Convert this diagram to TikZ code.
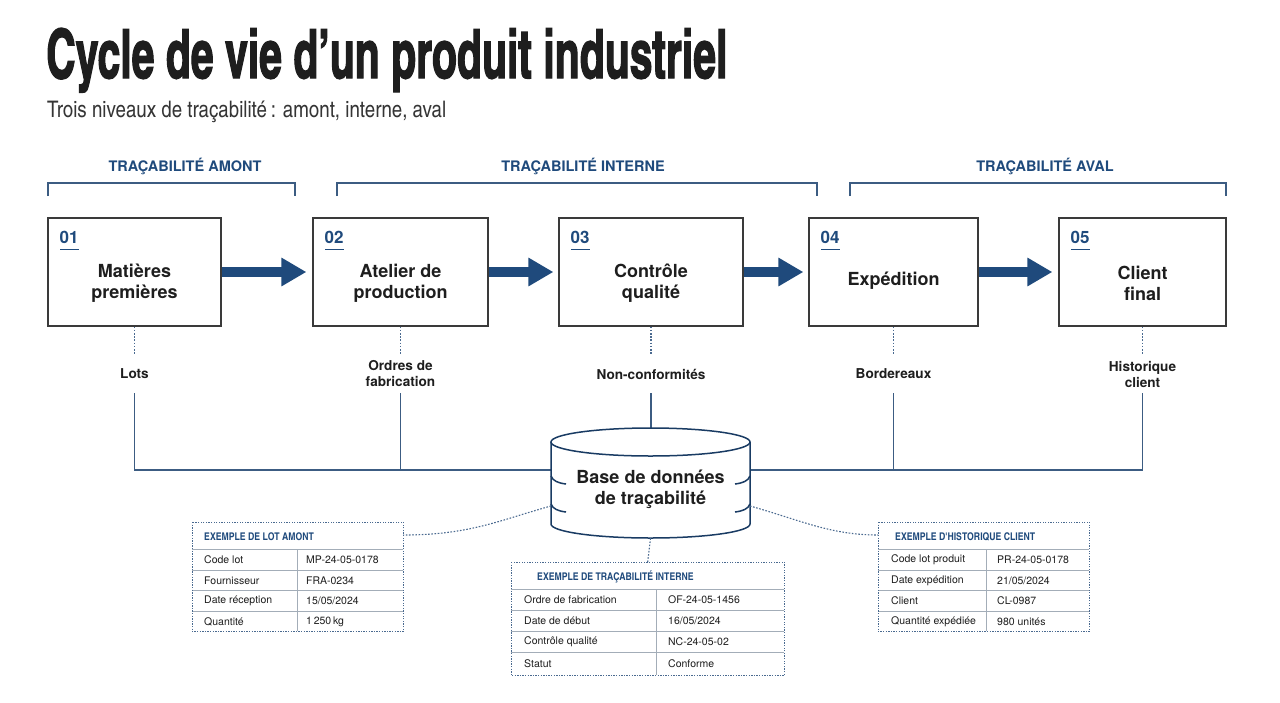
\documentclass[tikz,border=0pt]{standalone}
\usepackage{fontspec}
\setmainfont{TeX Gyre Heros}
\newfontfamily\cnfont{texgyreheroscn}[Extension=.otf, UprightFont=*-regular, BoldFont=*-bold, ItalicFont=*-italic, BoldItalicFont=*-bolditalic]
\newfontfamily\titlefont{texgyreheroscn-bold}[Extension=.otf, FakeBold=2]
\usetikzlibrary{arrows.meta,calc}
\definecolor{navy}{HTML}{1F4A7C}
\definecolor{lineblue}{HTML}{3C5C82}
\definecolor{boxgray}{HTML}{3A3A3A}
\definecolor{txt}{HTML}{1E1E1E}
\definecolor{gridc}{HTML}{A3ADB8}
\definecolor{dotc}{HTML}{4A6A90}
\tikzset{
  stepbox/.style={draw=boxgray, line width=1.3pt, fill=white, minimum height=108pt, inner sep=0pt},
  boxtext/.style={align=center, text=txt, inner sep=0pt, font=\bfseries\fontsize{18}{21}\selectfont},
  num/.style={text=navy, inner sep=0pt, font=\bfseries\fontsize{17}{20}\selectfont},
  numline/.style={draw=navy, line width=1.5pt},
  flow/.style={draw=navy, line width=10pt, -{Triangle[length=25pt,width=27pt]}},
  brlabel/.style={text=navy, inner sep=0pt, font=\bfseries\fontsize{14.5}{17}\selectfont},
  bracket/.style={draw=lineblue, line width=1.2pt},
  lab/.style={align=center, text=txt, inner sep=0pt, minimum height=38pt, font=\bfseries\fontsize{13.6}{16}\selectfont},
  dotline/.style={draw=dotc, line width=1.1pt, dash pattern=on 1.6pt off 1.6pt},
  conn/.style={draw=lineblue, line width=1.5pt},
  cyl/.style={draw=navy!80!black, line width=1.5pt},
  dbtext/.style={align=center, text=txt, inner sep=0pt, font=\bfseries\fontsize{18}{21}\selectfont},
  tbl/.style={draw=dotc, line width=1pt, dash pattern=on 1.3pt off 1.3pt, inner sep=0pt},
  gridl/.style={draw=gridc, line width=0.8pt},
  thead/.style={anchor=west, inner sep=0pt, text=navy, font=\cnfont\bfseries\fontsize{10.6}{12}\selectfont},
  tcell/.style={anchor=west, inner sep=0pt, text=txt, font=\fontsize{10.5}{12}\selectfont},
}
\begin{document}
\begin{tikzpicture}[x=1pt,y=-1pt]
\useasboundingbox[fill=white] (0,0) rectangle (1280,702);

% titles
\node[anchor=base west, inner sep=0pt, text=txt] (title) at (46,78) {\resizebox{681pt}{50pt}{\titlefont Cycle de vie d’un produit industriel}};
\node[anchor=base west, inner sep=0pt, text=txt!90] (subtitle) at (47,117) {\resizebox{399pt}{!}{\cnfont Trois niveaux de traçabilité\,: amont, interne, aval}};

% brackets
\node[brlabel] (bra) at (185,166) {TRAÇABILITÉ AMONT};
\node[brlabel] (bri) at (583,166) {TRAÇABILITÉ INTERNE};
\node[brlabel] (brv) at (1045,166) {TRAÇABILITÉ AVAL};
\draw[bracket] (48,196) -- (48,183) -- (295,183) -- (295,196);
\draw[bracket] (337,196) -- (337,183) -- (817,183) -- (817,196);
\draw[bracket] (850,196) -- (850,183) -- (1226,183) -- (1226,196);

% boxes
\node[stepbox, minimum width=173pt] (b1) at (134.5,272) {};
\node[stepbox, minimum width=175pt] (b2) at (400.5,272) {};
\node[stepbox, minimum width=184pt] (b3) at (651,272) {};
\node[stepbox, minimum width=169pt] (b4) at (893.5,272) {};
\node[stepbox, minimum width=167pt] (b5) at (1142.5,272) {};

\foreach \b/\n in {b1/01,b2/02,b3/03,b4/04,b5/05}{
  \node[num, anchor=west] (n\b) at ($(\b.north west)+(12,20)$) {\n};
  \draw[numline] ($(\b.north west)+(13,32)$) -- ++(19,0);
}

\node[boxtext] (b1t) at ($(b1.center)+(0,11)$) {Matières\\premières};
\node[boxtext] (b2t) at ($(b2.center)+(0,11)$) {Atelier de\\production};
\node[boxtext] (b3t) at ($(b3.center)+(0,11)$) {Contrôle\\qualité};
\node[boxtext] (b4t) at ($(b4.center)+(0,9)$) {Expédition};
\node[boxtext] (b5t) at ($(b5.center)+(0,11)$) {Client\\final};

% flow arrows
\draw[flow] (b1.east) -- ($(b2.west)+(-6,0)$);
\draw[flow] (b2.east) -- ($(b3.west)+(-5,0)$);
\draw[flow] (b3.east) -- ($(b4.west)+(-5,0)$);
\draw[flow] (b4.east) -- ($(b5.west)+(-6,0)$);

% labels
\node[lab] (l1) at (134.5,374) {Lots};
\node[lab] (l2) at (400.5,374) {Ordres de\\fabrication};
\node[lab] (l3) at (651,374) {Non-conformités};
\node[lab] (l4) at (893.5,374) {Bordereaux};
\node[lab] (l5) at (1142.5,374) {Historique\\client};
\foreach \i in {1,...,5}{ \draw[dotline] (b\i.south) -- (l\i.north); }

% database
\node[inner sep=0pt, minimum width=199pt, minimum height=110pt] (db) at (650.5,483) {};
\coordinate (cylL) at (551,470);
\coordinate (cylR) at (750,470);
\coordinate (cylT) at (651,428);
\draw[conn] (l1.south) |- (cylL);
\draw[conn] (l2.south) -- (l2.south |- cylL);
\draw[conn] (l3.south) -- (cylT);
\draw[conn] (l5.south) |- (cylR);
\draw[conn] (l4.south) -- (l4.south |- cylR);

\fill[white] (551,442) rectangle (750,524);
\draw[cyl, fill=white] (551,442) -- (551,524) arc[start angle=180, end angle=0, x radius=99.5, y radius=14] -- (750,442);
\draw[cyl, fill=white] (650.5,442) ellipse[x radius=99.5, y radius=14];
\draw[cyl] (551,476) .. controls (553,481) and (558,483) .. (566,484);
\draw[cyl] (750,476) .. controls (748,481) and (743,483) .. (735,484);
\draw[cyl] (551,504) .. controls (553,509) and (558,511) .. (566,512);
\draw[cyl] (750,504) .. controls (748,509) and (743,511) .. (735,512);
\node[dbtext] (dbt) at (650.5,489.5) {Base de données\\de traçabilité};

% tables
\node[inner sep=0pt, minimum width=211pt, minimum height=109pt, anchor=north west] (t1) at (192,522) {};
\node[inner sep=0pt, minimum width=273pt, minimum height=113pt, anchor=north west] (t2) at (511,562) {};
\node[inner sep=0pt, minimum width=211pt, minimum height=109pt, anchor=north west] (t3) at (878,522) {};

% grid t1
\foreach \yy in {549,570,590,611} { \draw[gridl] (192,\yy) -- (403,\yy); }
\draw[gridl] (297,549) -- (297,631);
% grid t2
\foreach \yy in {589,610,631,652} { \draw[gridl] (511,\yy) -- (784,\yy); }
\draw[gridl] (656,589) -- (656,675);
% grid t3
\foreach \yy in {549,570,590,611} { \draw[gridl] (878,\yy) -- (1089,\yy); }
\draw[gridl] (986,549) -- (986,631);

\draw[tbl] (t1.north west) rectangle (t1.south east);
\draw[tbl] (t2.north west) rectangle (t2.south east);
\draw[tbl] (t3.north west) rectangle (t3.south east);

% t1 text
\node[thead] (t1h) at (204,537) {EXEMPLE DE LOT AMONT};
\node[tcell] (t1a1) at (204,560) {Code lot};
\node[tcell] (t1b1) at (306,560) {MP-24-05-0178};
\node[tcell] (t1a2) at (204,580.5) {Fournisseur};
\node[tcell] (t1b2) at (306,580.5) {FRA-0234};
\node[tcell] (t1a3) at (204,601) {Date réception};
\node[tcell] (t1b3) at (306,601) {15/05/2024};
\node[tcell] (t1a4) at (204,621.5) {Quantité};
\node[tcell] (t1b4) at (306,621.5) {1\,250\,kg};

% t2 text
\node[thead] (t2h) at (537,576.5) {EXEMPLE DE TRAÇABILITÉ INTERNE};
\node[tcell] (t2a1) at (524,600) {Ordre de fabrication};
\node[tcell] (t2b1) at (668,600) {OF-24-05-1456};
\node[tcell] (t2a2) at (524,621) {Date de début};
\node[tcell] (t2b2) at (668,621) {16/05/2024};
\node[tcell] (t2a3) at (524,642) {Contrôle qualité};
\node[tcell] (t2b3) at (668,642) {NC-24-05-02};
\node[tcell] (t2a4) at (524,663.5) {Statut};
\node[tcell] (t2b4) at (668,663.5) {Conforme};

% t3 text
\node[thead] (t3h) at (895,537) {EXEMPLE D'HISTORIQUE CLIENT};
\node[tcell] (t3a1) at (891,560) {Code lot produit};
\node[tcell] (t3b1) at (997,560) {PR-24-05-0178};
\node[tcell] (t3a2) at (891,580.5) {Date expédition};
\node[tcell] (t3b2) at (997,580.5) {21/05/2024};
\node[tcell] (t3a3) at (891,601) {Client};
\node[tcell] (t3b3) at (997,601) {CL-0987};
\node[tcell] (t3a4) at (891,621.5) {Quantité expédiée};
\node[tcell] (t3b4) at (997,621.5) {980 unités};

% dotted links to tables
\coordinate (dbL) at (551,506);
\coordinate (dbR) at (750,506);
\coordinate (t1c) at ($(t1.north east)+(0,13)$);
\coordinate (t3c) at ($(t3.north west)+(0,13)$);
\draw[dotline] (dbL) .. controls (500,520) and (470,535) .. (t1c);
\draw[dotline] (dbR) .. controls (800,520) and (830,535) .. (t3c);
\draw[dotline] (db.south) -- (t2.north);
\end{tikzpicture}
\end{document}
